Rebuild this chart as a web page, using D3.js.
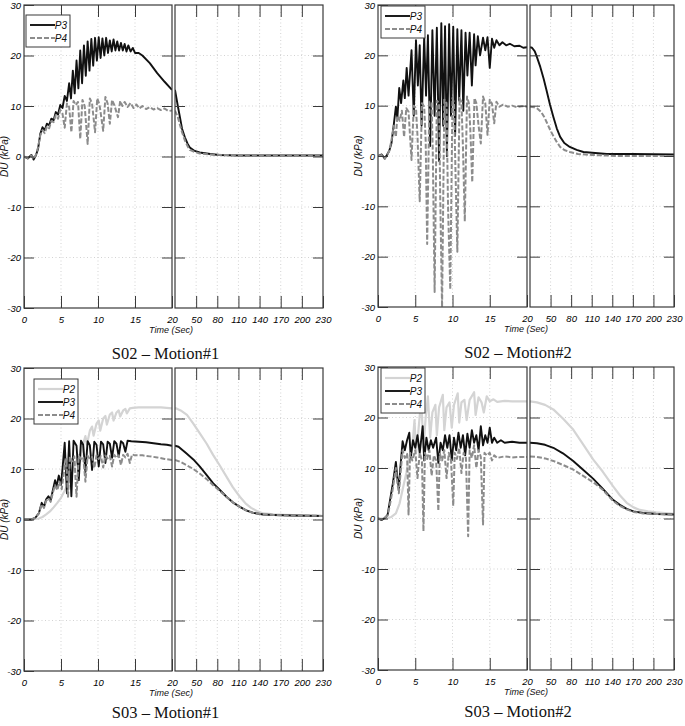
<!DOCTYPE html>
<html>
<head>
<meta charset="utf-8">
<script src="https://cdnjs.cloudflare.com/ajax/libs/d3/7.8.5/d3.min.js"></script>
<style>
  html, body { margin: 0; padding: 0; background: #fff; }
  svg { display: block; }
  .tick text { font-family: 'Liberation Sans', Arial, sans-serif; font-style: italic; font-size: 9.5px; fill: #000; }
  .lbl { font-family: 'Liberation Sans', Arial, sans-serif; font-style: italic; fill: #111; }
  .ttl { font-family: 'Liberation Serif', 'Times New Roman', serif; font-size: 16.5px; fill: #111; }
</style>
</head>
<body>
<div id="chart"></div>
<script>
// Pore pressure DU (kPa) vs time (sec).
// Each series is split: 0-20 s (fine scale) and 20-230 s (coarse scale).

var X_TICKS_LEFT = [0, 5, 10, 15, 20];
var X_TICKS_RIGHT = [50, 80, 110, 140, 170, 200, 230];
var Y_TICKS = [-30, -20, -10, 0, 10, 20, 30];
var TITLES = ['S02 \u2013 Motion#1', 'S02 \u2013 Motion#2', 'S03 \u2013 Motion#1', 'S03 \u2013 Motion#2'];

// S02 - Motion#1
var S02M1_P3 = [[0,0],[0.5,-0.4],[1,0.3],[1.3,-0.6],[1.6,0.2],[1.9,1.5],[2.2,4.5],[2.5,5.8],[2.8,5.2],[3.1,6.5],[3.4,6.2],[3.7,7.5],[4,7.2],[4.3,8.8],[4.6,8.3],[4.9,10.2],[5.2,9.6],[5.5,12],[5.8,11],[6.1,14.5],[6.35,11.5],[6.6,17],[6.85,12.5],[7.1,19],[7.35,13.5],[7.6,21],[7.85,14.5],[8.1,22],[8.35,16],[8.6,22.8],[8.85,17],[9.1,23.3],[9.35,18],[9.6,23.5],[9.85,19],[10.1,23.6],[10.35,19.5],[10.6,23.4],[10.85,20],[11.1,23.5],[11.35,20.5],[11.6,23],[11.85,20.8],[12.1,23.2],[12.35,21],[12.6,22.8],[12.85,21],[13.1,22.5],[13.35,21],[13.6,22.3],[13.85,20.8],[14.1,22],[14.4,20.8],[14.7,21.5],[15,20.5],[15.5,20.5],[16,20],[17,18.5],[18,16.5],[19,14.8],[20,13.2]];
var S02M1_P3_R = [[20,13.2],[24,10],[27,7.8],[30,5.5],[34,3.8],[38,2.5],[41,1.8],[48,1.1],[55,0.8],[70,0.5],[83,0.3],[110,0.2],[150,0.2],[190,0.2],[230,0.2]];
var S02M1_P4 = [[0,0],[0.5,-0.3],[1,0.2],[1.3,-0.5],[1.6,0.3],[1.9,1.8],[2.2,4.2],[2.5,5.2],[2.8,4.6],[3.1,6],[3.4,5.6],[3.7,7],[4,6.8],[4.3,8.2],[4.6,7.5],[4.9,9.2],[5.2,8.5],[5.5,5.7],[5.8,10.5],[6.1,9.8],[6.4,4.8],[6.7,11],[7,10.2],[7.3,10.8],[7.6,3.5],[7.9,11.2],[8.2,10],[8.6,2.5],[8.9,11.5],[9.2,10.5],[9.6,4.8],[9.9,11.5],[10.2,10.3],[10.7,5.1],[11,11.8],[11.3,10.5],[11.6,6.5],[11.9,11.2],[12.2,10.2],[12.7,7.8],[13,11],[13.3,10],[13.6,10.8],[14,9.8],[14.4,10.6],[14.8,9.6],[15.2,10.3],[15.6,9.5],[16,10],[16.5,9.4],[17,9.8],[17.5,9.3],[18,9.6],[18.5,9.2],[19,9.5],[19.5,9],[20,9.1]];
var S02M1_P4_R = [[20,9.1],[24,7.8],[27,6.3],[30,4.8],[34,3.2],[38,2],[41,1.3],[48,0.9],[55,0.6],[70,0.4],[90,0.3],[130,0.2],[230,0.2]];

// S02 - Motion#2
var S02M2_P3 = [[0,0],[0.5,0.3],[0.9,-0.5],[1.2,0.2],[1.5,1],[1.8,2.5],[2.1,6],[2.4,9.8],[2.6,7.5],[2.85,13.5],[3.1,10.5],[3.4,15],[3.6,11.5],[3.85,17.5],[4.1,12],[4.5,21],[4.8,8],[5.1,23],[5.35,14],[5.6,22],[5.85,6],[6.2,23.7],[6.45,12],[6.7,24],[7,2],[7.3,25],[7.6,8],[7.9,25.5],[8.2,-1],[8.5,26.4],[8.75,6],[9,25.8],[9.25,0],[9.55,26.2],[9.8,8],[10.1,25.7],[10.35,4],[10.65,25.2],[10.9,11],[11.2,25],[11.45,9],[11.75,24.5],[12,16],[12.3,24.5],[12.6,14],[12.9,24.2],[13.1,18],[13.4,23.8],[13.7,20],[14.1,23.5],[14.4,21],[14.7,23.6],[15,17.5],[15.3,23.3],[15.6,21.5],[15.9,23],[16.3,22],[16.7,22.6],[17.2,22],[17.7,22.3],[18.3,21.8],[19,21.9],[19.5,21.5],[20,21.6]];
var S02M2_P3_R = [[20,21.6],[23,21.5],[27,20.8],[30,19.7],[35,17.7],[40,15.3],[44,13.1],[49,10.3],[54,7.8],[59,5.5],[64,3.8],[70,2.6],[78,1.8],[88,1.2],[98,0.8],[115,0.6],[132,0.4],[170,0.4],[230,0.3]];
var S02M2_P4 = [[0,0],[0.5,0.2],[0.9,-0.6],[1.2,0.1],[1.5,1],[1.8,3],[2.1,6],[2.4,3.8],[2.6,8],[2.9,7],[3.2,9],[3.5,3.8],[3.8,9.5],[4.1,8.8],[4.5,-0.8],[4.8,10],[5.1,9.5],[5.3,4],[5.6,-9],[5.9,10.5],[6.2,9.8],[6.4,3],[6.6,-17.5],[6.9,10.8],[7.2,10.5],[7.35,1],[7.6,-27],[7.9,11],[8.2,10.5],[8.35,-8],[8.6,-30],[8.9,11.2],[9.2,10.5],[9.4,-10],[9.7,-26.5],[10,11.5],[10.2,10.6],[10.4,-3],[10.65,-19],[10.95,11.5],[11.2,10.8],[11.4,2],[11.65,-13],[11.95,11.8],[12.2,10.5],[12.4,5],[12.65,-5.2],[12.95,11.5],[13.2,10.5],[13.5,6],[13.8,2.5],[14.1,11.8],[14.4,10.5],[14.7,4.2],[15,11.2],[15.3,10.4],[15.6,6.5],[15.9,10.8],[16.3,9.8],[16.8,10.2],[17.4,9.8],[18,10],[18.6,9.7],[19.3,9.9],[20,9.8]];
var S02M2_P4_R = [[20,9.8],[26,9.7],[31,9.4],[36,8.8],[41,7.7],[45,6.5],[50,5],[54,4],[59,2.8],[64,1.8],[70,1.2],[78,0.8],[90,0.4],[110,0.2],[150,0],[230,0]];

// S03 - Motion#1
var S03M1_P2 = [[0,0],[1,0],[2,0.2],[2.5,0.5],[3,1],[3.5,1.6],[4,2.4],[4.5,3.3],[5,4.3],[5.5,5.7],[6,7.2],[6.5,9.2],[7,11.2],[7.4,12.8],[7.6,11.5],[8,15],[8.3,16.5],[8.5,14.8],[8.9,17.6],[9.2,18.4],[9.4,16.6],[9.8,19],[10.1,19.6],[10.3,17.6],[10.7,20],[11,20.5],[11.2,18.8],[11.6,20.8],[11.9,21.2],[12.1,19.6],[12.5,21.2],[12.8,21.6],[13,20.4],[13.4,21.6],[13.7,21.9],[13.9,21],[14.3,22],[14.7,22.1],[15.5,22.2],[17,22.2],[18.5,22.2],[20,22]];
var S03M1_P2_R = [[20,22],[22,22],[28,21.6],[37,20.7],[46,19],[55,17.1],[65,15],[74,12.8],[84,10.6],[93,8.5],[102,6.4],[112,4.5],[120,3.2],[128,2.3],[136,1.7],[145,1.2],[160,1],[175,0.9],[200,0.8],[230,0.7]];
var S03M1_P3 = [[0,0],[1,0],[1.5,0.3],[2,1.2],[2.4,3.3],[2.7,2.5],[3,4],[3.3,4.6],[3.6,3.8],[3.9,5.8],[4.2,7.8],[4.4,6.5],[4.7,8.7],[5,6.8],[5.2,10],[5.5,15.2],[5.8,5.2],[6.1,15.5],[6.4,4.6],[6.7,15.6],[7.1,14.6],[7.4,7.8],[7.7,15.6],[8,14.8],[8.3,9.4],[8.6,15.5],[8.9,14.7],[9.2,9.8],[9.5,15.4],[9.8,14.8],[10.1,10.5],[10.4,15.4],[10.7,14.9],[11,11.2],[11.3,15.4],[11.6,15],[11.9,12.2],[12.2,15.5],[12.5,15],[12.8,12.5],[13.1,15.5],[13.4,15.1],[13.7,13.4],[14,15.6],[14.5,15.5],[15.5,15.4],[16.5,15.3],[17.5,15.1],[18.5,14.9],[19.3,14.8],[20,14.6]];
var S03M1_P3_R = [[20,14.6],[25,14.4],[36,13.1],[46,11.9],[55,10.5],[65,8.8],[74,7.2],[84,5.8],[93,4.5],[102,3.4],[112,2.5],[121,1.8],[131,1.3],[145,1],[160,0.9],[185,0.8],[230,0.7]];
var S03M1_P4 = [[0,0],[1,0],[1.5,0.3],[2,1.2],[2.4,3],[2.7,2.3],[3,3.7],[3.3,4.2],[3.6,3.5],[3.9,5.3],[4.2,6.8],[4.5,5.8],[4.8,7.5],[5.1,6],[5.4,9.5],[5.7,12],[5.95,4.5],[6.2,12.5],[6.5,11.5],[6.8,12.5],[7.1,4.5],[7.4,12.6],[7.7,12],[8,12.4],[8.3,7.5],[8.6,12.6],[8.9,12],[9.2,12.4],[9.5,10.2],[9.8,12.7],[10.1,12],[10.4,12.5],[10.7,10.3],[11,12.7],[11.3,12.1],[11.6,12.6],[11.9,10.5],[12.2,12.8],[12.5,12.2],[12.8,12.7],[13.1,10.8],[13.4,12.8],[13.7,12.3],[14,13],[14.3,11.2],[14.6,12.9],[15,12.7],[16,12.7],[17,12.5],[18,12.3],[19,12],[20,11.8]];
var S03M1_P4_R = [[20,11.8],[28,11.4],[36,10.8],[46,10],[55,9.1],[65,8],[74,6.8],[84,5.6],[93,4.5],[102,3.4],[112,2.5],[121,1.8],[131,1.3],[145,1],[160,0.9],[185,0.8],[230,0.7]];

// S03 - Motion#2
var S03M2_P2 = [[0,0],[1,0],[1.8,0.3],[2.4,1],[2.9,3],[3.3,5.7],[3.8,9],[4.2,12.3],[4.6,14],[4.9,19.5],[5.1,13],[5.4,17],[5.8,23.6],[6.1,14],[6.4,20],[6.7,24.2],[7,16],[7.3,21],[7.7,22.5],[7.9,16.5],[8.2,22],[8.7,24.5],[8.9,17.5],[9.2,22],[9.6,23],[9.9,18],[10.2,22.5],[10.7,24.8],[10.9,19],[11.2,23],[11.6,23.5],[11.9,19.5],[12.3,23.5],[12.9,25],[13.1,20.5],[13.5,24],[13.9,23],[14.2,21],[14.6,24.2],[15,23.2],[15.5,23.6],[16,23.1],[17,23.3],[18,23.2],[19,23.2],[20,23.2]];
var S03M2_P2_R = [[20,23.2],[30,23],[42,22.5],[54,21.6],[68,19.8],[83,17.6],[97,14.8],[112,11.7],[126,9.3],[141,6.4],[151,4.6],[161,3.1],[171,2.2],[180,1.7],[192,1.4],[204,1.2],[230,0.9]];
var S03M2_P3 = [[0,0],[0.5,-0.3],[1,0.2],[1.3,0.8],[1.7,4.4],[2,7],[2.4,11.2],[2.6,8],[2.8,6],[3,10],[3.3,15.3],[3.6,13.5],[3.9,15.5],[4.2,17],[4.4,12],[4.7,15.5],[5,14],[5.3,16.5],[5.6,13],[6,18.3],[6.2,11.5],[6.5,16],[6.8,13.5],[7.1,15.5],[7.4,14],[7.8,16],[8.1,11],[8.4,15],[8.7,13.5],[9,16.5],[9.3,14],[9.6,16.5],[9.9,11.5],[10.2,16],[10.5,13.5],[10.8,17],[11.1,14],[11.4,16.5],[11.7,12.5],[12,16.8],[12.3,14],[12.6,17.5],[12.9,15],[13.2,16.5],[13.5,13.5],[13.8,18.3],[14.1,14.5],[14.4,16.5],[14.7,15],[15,18],[15.3,15],[15.6,16],[16,15],[16.5,15.5],[17,15],[18,15.2],[19,15],[20,15]];
var S03M2_P3_R = [[20,15],[30,14.9],[42,14.6],[54,14],[68,12.9],[83,11.4],[97,9.7],[112,7.9],[126,5.9],[141,3.7],[151,2.7],[161,1.9],[171,1.4],[185,1.1],[205,0.9],[230,0.8]];
var S03M2_P4 = [[0,0],[0.5,-0.2],[1,0.3],[1.3,0.6],[1.7,3.5],[2,6],[2.4,10],[2.6,7],[2.8,5],[3,8.5],[3.3,13.5],[3.6,12],[3.9,12.8],[4.1,0.8],[4.3,13],[4.6,11.5],[5,13.5],[5.3,8],[5.6,13],[5.9,11.5],[6.1,-2.5],[6.3,13],[6.6,11.8],[6.9,13.5],[7.2,8.5],[7.5,12.5],[7.8,11.5],[8.1,1.5],[8.3,12.8],[8.6,11.5],[8.9,13.5],[9.2,8],[9.5,13],[9.8,11.5],[10.1,2.5],[10.3,13],[10.6,11.8],[10.9,14],[11.2,9],[11.5,13],[11.8,12],[12.1,-3.5],[12.3,13.5],[12.6,12],[12.9,14.5],[13.2,10],[13.5,13.5],[13.8,12.2],[14.1,-1.2],[14.3,13],[14.6,12.5],[15,13],[15.3,11.5],[15.6,12.5],[16,12],[17,12.3],[18,12.1],[19,12.2],[20,12.2]];
var S03M2_P4_R = [[20,12.3],[30,12.2],[42,11.9],[54,11.4],[68,10.6],[83,9.7],[97,8.5],[112,7.2],[126,5.7],[141,3.5],[151,2.5],[161,1.8],[171,1.3],[185,1],[205,0.9],[230,0.8]];

var PANEL_SERIES = [
  [['P3', S02M1_P3, S02M1_P3_R], ['P4', S02M1_P4, S02M1_P4_R]],
  [['P3', S02M2_P3, S02M2_P3_R], ['P4', S02M2_P4, S02M2_P4_R]],
  [['P2', S03M1_P2, S03M1_P2_R], ['P3', S03M1_P3, S03M1_P3_R], ['P4', S03M1_P4, S03M1_P4_R]],
  [['P2', S03M2_P2, S03M2_P2_R], ['P3', S03M2_P3, S03M2_P3_R], ['P4', S03M2_P4, S03M2_P4_R]]
];

(function () {
  'use strict';

  var STYLE = {
    P2: { color: '#d4d4d4', width: 2.2, dash: null },
    P3: { color: '#111111', width: 1.9, dash: null },
    P4: { color: '#8c8c8c', width: 2, dash: '5,2' }
  };

  // sub-plot frames in px: left sub spans x0..xa, right sub xb..x1
  var FRAMES = [
    { x0: 24, xa: 172, xb: 175, x1: 323, y0: 5, y1: 308, lx: 26, ly: 15, ty: 51 },
    { x0: 378, xa: 527, xb: 530, x1: 674, y0: 5, y1: 307, lx: 381, ly: 6, ty: 51 },
    { x0: 24, xa: 172, xb: 175, x1: 323, y0: 368, y1: 671, lx: 34, ly: 379, ty: 47 },
    { x0: 378, xa: 527, xb: 530, x1: 674, y0: 367, y1: 670, lx: 381, ly: 368, ty: 47 }
  ];

  var svg = d3.select('#chart').append('svg')
    .attr('width', 685)
    .attr('height', 726);

  FRAMES.forEach(function (f, i) { drawPanel(f, i); });

  function drawPanel(f, idx) {
    var g = svg.append('g');
    var y = d3.scaleLinear().domain([-30, 30]).range([f.y1, f.y0]);
    var xl = d3.scaleLinear().domain([0, 20]).range([f.x0, f.xa]);
    var xr = d3.scaleLinear().domain([20, 230]).range([f.xb, f.x1]);

    var subs = [
      { x: xl, ticks: X_TICKS_LEFT, key: 1, id: 'cl' + idx },
      { x: xr, ticks: [20].concat(X_TICKS_RIGHT), key: 2, id: 'cr' + idx }
    ];

    subs.forEach(function (s) {
      var r = s.x.range();
      g.append('clipPath').attr('id', s.id)
        .append('rect')
        .attr('x', r[0]).attr('y', f.y0)
        .attr('width', r[1] - r[0]).attr('height', f.y1 - f.y0);

      // dotted grid
      var inner = s.ticks.slice(1, -1);
      g.selectAll(null).data(inner).join('line')
        .attr('x1', function (d) { return s.x(d); })
        .attr('x2', function (d) { return s.x(d); })
        .attr('y1', f.y0).attr('y2', f.y1)
        .attr('stroke', '#c8c8c8').attr('stroke-width', 0.8)
        .attr('stroke-dasharray', '1,2.5');
      g.selectAll(null).data(Y_TICKS.slice(1, -1)).join('line')
        .attr('x1', r[0]).attr('x2', r[1])
        .attr('y1', function (d) { return y(d); })
        .attr('y2', function (d) { return y(d); })
        .attr('stroke', '#c8c8c8').attr('stroke-width', 0.8)
        .attr('stroke-dasharray', '1,2.5');
    });

    // series
    var lines = PANEL_SERIES[idx];
    lines.forEach(function (s) {
      var st = STYLE[s[0]];
      [[s[1], xl, 'cl' + idx], [s[2], xr, 'cr' + idx]].forEach(function (part) {
        var sx = part[1];
        var line = d3.line()
          .x(function (d) { return sx(d[0]); })
          .y(function (d) { return y(d[1]); });
        g.append('path')
          .datum(part[0])
          .attr('clip-path', 'url(#' + part[2] + ')')
          .attr('fill', 'none')
          .attr('stroke', st.color)
          .attr('stroke-width', st.width)
          .attr('stroke-linejoin', 'round')
          .attr('stroke-dasharray', st.dash)
          .attr('d', line);
      });
    });

    // axes: ticks point inward on all four sides
    subs.forEach(function (s) {
      var r = s.x.range();
      var inner = s.ticks.slice(1, -1);
      var labels = s.key === 1 ? s.ticks : X_TICKS_RIGHT;

      g.append('g')
        .attr('transform', 'translate(0,' + f.y1 + ')')
        .call(d3.axisBottom(s.x).tickValues(labels).tickSizeInner(-12).tickSizeOuter(0).tickPadding(8))
        .call(tidy);
      g.append('g')
        .attr('transform', 'translate(0,' + f.y0 + ')')
        .call(d3.axisTop(s.x).tickValues(inner).tickSizeInner(-12).tickSizeOuter(0).tickFormat(''))
        .call(tidy);

      var left = d3.axisLeft(y).tickValues(Y_TICKS.slice(1, -1)).tickSizeInner(-10).tickSizeOuter(0);
      if (s.key === 1) {
        left = d3.axisLeft(y).tickValues(Y_TICKS).tickSizeInner(-10).tickSizeOuter(0).tickPadding(3)
          .tickFormat(function (d) { return d; });
      } else {
        left.tickFormat('');
      }
      g.append('g').attr('transform', 'translate(' + r[0] + ',0)').call(left).call(tidy);
      g.append('g').attr('transform', 'translate(' + r[1] + ',0)')
        .call(d3.axisRight(y).tickValues(Y_TICKS.slice(1, -1)).tickSizeInner(-10).tickSizeOuter(0).tickFormat(''))
        .call(tidy);

      g.append('rect')
        .attr('x', r[0]).attr('y', f.y0)
        .attr('width', r[1] - r[0]).attr('height', f.y1 - f.y0)
        .attr('fill', 'none').attr('stroke', '#3a3a3a').attr('stroke-width', 1.2);
    });

    // legend
    var lg = g.append('g').attr('transform', 'translate(' + f.lx + ',' + f.ly + ')');
    var rowH = 13;
    lg.append('rect')
      .attr('width', 44).attr('height', lines.length * rowH + 6)
      .attr('fill', '#fff').attr('stroke', '#3a3a3a').attr('stroke-width', 1);
    lines.forEach(function (s, i) {
      var st = STYLE[s[0]];
      var yy = 10 + i * rowH;
      lg.append('line')
        .attr('x1', 4).attr('x2', 29).attr('y1', yy).attr('y2', yy)
        .attr('stroke', st.color).attr('stroke-width', st.width)
        .attr('stroke-dasharray', st.dash);
      lg.append('text').attr('class', 'lbl')
        .attr('x', 41).attr('y', yy + 3.5)
        .attr('text-anchor', 'end')
        .attr('font-size', '10px')
        .text(s[0]);
    });

    // labels
    g.append('text').attr('class', 'lbl')
      .attr('transform', 'translate(' + (f.x0 - 16) + ',' + ((f.y0 + f.y1) / 2) + ') rotate(-90)')
      .attr('text-anchor', 'middle')
      .attr('font-size', '10px')
      .text('DU (kPa)');
    g.append('text').attr('class', 'lbl')
      .attr('x', f.xa - 1).attr('y', f.y1 + 25)
      .attr('text-anchor', 'middle')
      .attr('font-size', '9px')
      .text('Time (Sec)');
    g.append('text').attr('class', 'ttl')
      .attr('x', (f.x0 + f.x1) / 2 - 8).attr('y', f.y1 + f.ty)
      .attr('text-anchor', 'middle')
      .text(TITLES[idx]);
  }

  function tidy(sel) {
    sel.select('.domain').remove();
    sel.selectAll('.tick line').attr('stroke', '#3a3a3a').attr('stroke-width', 1);
  }
})();
</script>
</body>
</html>
